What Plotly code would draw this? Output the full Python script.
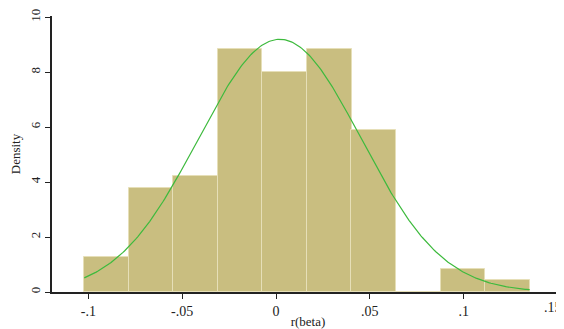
import numpy as np
import plotly.graph_objects as go

# histogram bins
bin_left = [-0.1022, -0.0785, -0.0548, -0.0310, -0.0073, 0.0165, 0.0402, 0.0640, 0.0877, 0.1114]
bin_width = 0.02375
density = [1.26, 3.78, 4.21, 8.83, 7.99, 8.83, 5.89, 0.0, 0.84, 0.42]

# fitted normal density parameters
norm_mean = 0.002
norm_sd = 0.0434
curve_start, curve_end = -0.1022, 0.1352

x_ticks = [-0.1, -0.05, 0, 0.05, 0.1, 0.15]
x_ticklabels = ["-.1", "-.05", "0", ".05", ".1", ".15"]
y_ticks = [0, 2, 4, 6, 8, 10]

centers = [l + bin_width / 2 for l in bin_left]
xs = np.linspace(curve_start, curve_end, 300)
ys = np.exp(-0.5 * ((xs - norm_mean) / norm_sd) ** 2) / (norm_sd * np.sqrt(2 * np.pi))

fig = go.Figure()
fig.add_trace(go.Bar(
    x=centers, y=density, width=[bin_width] * len(centers),
    marker=dict(color="#c9be80", line=dict(color="#e6dfb8", width=1)),
    hoverinfo="skip",
))
fig.add_trace(go.Scatter(
    x=xs, y=ys, mode="lines",
    line=dict(color="#3dba3d", width=1.2),
    hoverinfo="skip",
))

font = dict(family="Liberation Serif, Times New Roman, serif", size=14, color="#222222")
# page body adds an 8px offset, so the figure is sized/margined to compensate
fig.update_layout(
    width=556, height=321,
    margin=dict(l=44, r=0, t=8, b=37),
    paper_bgcolor="white", plot_bgcolor="white",
    showlegend=False, bargap=0,
    font=font,
)
# last tick label sits at the right edge: draw it right-anchored so it stays whole
shown_labels = x_ticklabels[:-1] + [""]
fig.add_annotation(
    x=1.0, xref="paper", y=0, yref="paper",
    text=x_ticklabels[-1], showarrow=False,
    xanchor="right", yanchor="top", yshift=-6,
    font=font,
)
fig.update_xaxes(
    range=[-0.1194, 0.1535],
    tickvals=x_ticks, ticktext=shown_labels,
    ticks="outside", ticklen=5, tickcolor="#222", tickwidth=1,
    showline=True, linecolor="#222", linewidth=1.5,
    showgrid=False, zeroline=False, automargin=False,
    title=dict(text="r(beta)", standoff=0, font=dict(family=font["family"], size=13, color="#222")),
)
fig.update_yaxes(
    range=[0, 10.04],
    tickvals=y_ticks,
    tickangle=-90,
    tickfont=dict(size=13),
    ticks="outside", ticklen=5, tickcolor="#222", tickwidth=1,
    showline=True, linecolor="#222", linewidth=1.5,
    showgrid=False, zeroline=False, automargin=False,
    title=dict(text="Density", standoff=6, font=dict(family=font["family"], size=13, color="#222")),
)
fig.write_html("out.html")
